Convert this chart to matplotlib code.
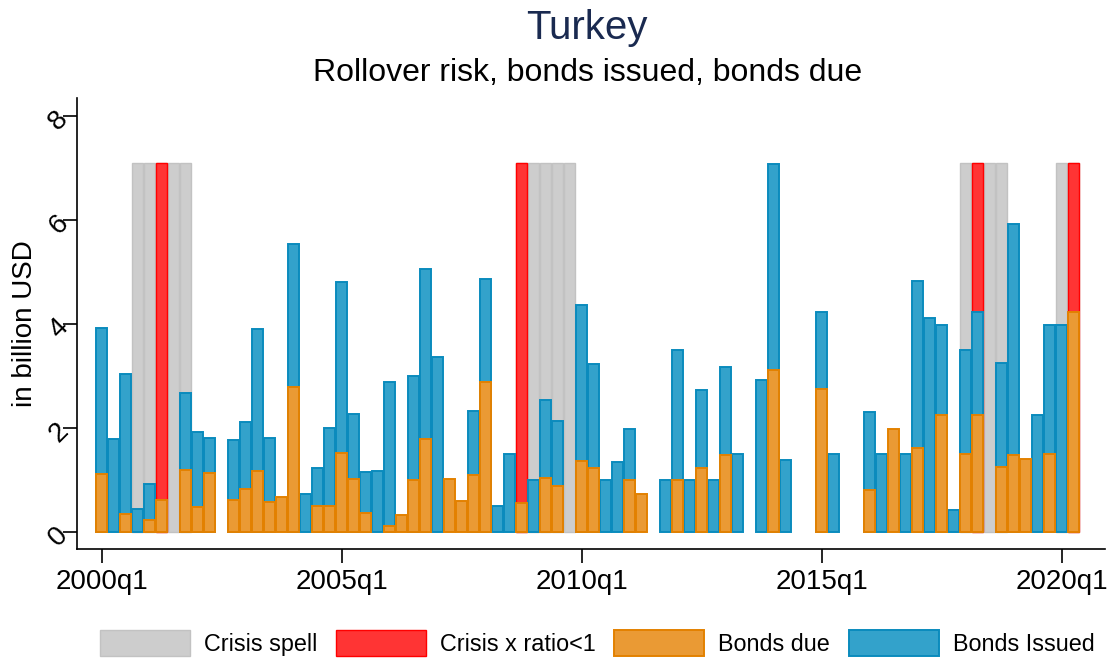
import numpy as np
import matplotlib
matplotlib.use("Agg")
import matplotlib.pyplot as plt
import matplotlib.transforms as mtransforms

plt.rcParams['font.family'] = ['Liberation Sans', 'DejaVu Sans']

nan = np.nan
# quarters since 2000q1 (0 = 2000q1 ... 81 = 2020q2)
quarters = np.arange(82)

bonds_issued = [3.93, 1.80, 3.04, 0.45, 0.92, nan, nan, 2.67, 1.92, 1.82,
                nan, 1.77, 2.11, 3.90, 1.82, nan, 5.54, 0.74, 1.24, 2.00,
                4.82, 2.27, 1.15, 1.17, 2.89, nan, 3.00, 5.07, 3.36, nan,
                nan, 2.33, 4.87, 0.50, 1.50, nan, 1.00, 2.54, 2.13, nan,
                4.36, 3.23, 1.00, 1.34, 1.99, nan, nan, 1.00, 3.50, 1.00,
                2.73, 1.00, 3.18, 1.50, nan, 2.92, 7.09, 1.38, nan, nan,
                4.24, 1.50, nan, nan, 2.31, 1.50, nan, 1.50, 4.84, 4.11,
                3.99, 0.42, 3.50, 4.24, nan, 3.25, 5.92, nan, 2.25, 3.99,
                3.99, nan]

bonds_due = [1.11, nan, 0.35, nan, 0.24, 0.62, nan, 1.20, 0.48, 1.13,
             nan, 0.62, 0.83, 1.18, 0.58, 0.67, 2.79, nan, 0.51, 0.51,
             1.52, 1.03, 0.37, nan, 0.11, 0.33, 1.01, 1.80, nan, 1.02,
             0.60, 1.10, 2.88, nan, nan, 0.56, nan, 1.04, 0.88, nan,
             1.37, 1.24, nan, nan, 1.01, 0.74, nan, nan, 1.00, nan,
             1.23, nan, 1.49, nan, nan, nan, 3.11, nan, nan, nan,
             2.75, nan, nan, nan, 0.82, nan, 1.99, nan, 1.61, nan,
             2.25, nan, 1.50, 2.25, nan, 1.26, 1.49, 1.40, nan, 1.50,
             nan, 4.23]

crisis_q = [3, 4, 5, 6, 7, 35, 36, 37, 38, 39, 72, 73, 74, 75, 80, 81]
crisis_ratio_q = [5, 35, 73, 81]
crisis_level = 7.1

tick_q = [0, 20, 40, 60, 80]
tick_labels = ["2000q1", "2005q1", "2010q1", "2015q1", "2020q1"]

fig = plt.figure(figsize=(11.14, 6.6), dpi=100)
ax = fig.add_axes([0.0694, 0.1677, 0.9226, 0.6838])

w = 0.92
ax.bar(crisis_q, [crisis_level] * len(crisis_q), width=w, color='#cdcdcd',
       edgecolor='#c2c2c2', linewidth=1, label='Crisis spell')
ax.bar(crisis_ratio_q, [crisis_level] * len(crisis_ratio_q), width=w, color='#ff3434',
       edgecolor='#ff0000', linewidth=1, label='Crisis x ratio<1')
ax.bar(quarters, bonds_issued, width=w, color='#33a2cb', edgecolor='#0a8bbd',
       linewidth=1.4, label='Bonds Issued')
ax.bar(quarters, bonds_due, width=w, color='#ea9a34', edgecolor='#e38100',
       linewidth=1.4, label='Bonds due')

ax.set_xlim(-2.03, 83.6)
ax.set_ylim(-0.33, 8.35)
ax.set_xticks(tick_q)
ax.set_xticklabels(tick_labels, fontsize=20)
ax.set_yticks([0, 2, 4, 6, 8])
ax.set_yticklabels(["0", "2", "4", "6", "8"], fontsize=20, rotation=45, va='center')
ax.tick_params(axis='x', length=10, width=1.2, pad=4)
ax.tick_params(axis='y', length=10, width=1.2, pad=3)
shift = mtransforms.ScaledTranslation(0.14, -0.04, fig.dpi_scale_trans)
for lab in ax.get_yticklabels():
    lab.set_transform(lab.get_transform() + shift)
for s in ['top', 'right']:
    ax.spines[s].set_visible(False)
for s in ['left', 'bottom']:
    ax.spines[s].set_linewidth(1.2)
ax.set_ylabel("in billion USD", fontsize=20)
ax.yaxis.set_label_coords(-0.038, 0.5)

fig.text(0.527, 0.958, "Turkey", ha='center', va='center', fontsize=29, color='#1a2a50')
fig.text(0.527, 0.889, "Rollover risk, bonds issued, bonds due", ha='center', va='center',
         fontsize=23)

h, l = ax.get_legend_handles_labels()
order = [0, 1, 3, 2]
fig.legend([h[i] for i in order], [l[i] for i in order], loc='center',
           bbox_to_anchor=(597 / 1114, 1 - 643 / 660), ncol=4, frameon=False,
           fontsize=16.8, handlelength=3.86, handleheight=1.29, handletextpad=0.6,
           columnspacing=0.8)

fig.savefig("out.png", dpi=100)
